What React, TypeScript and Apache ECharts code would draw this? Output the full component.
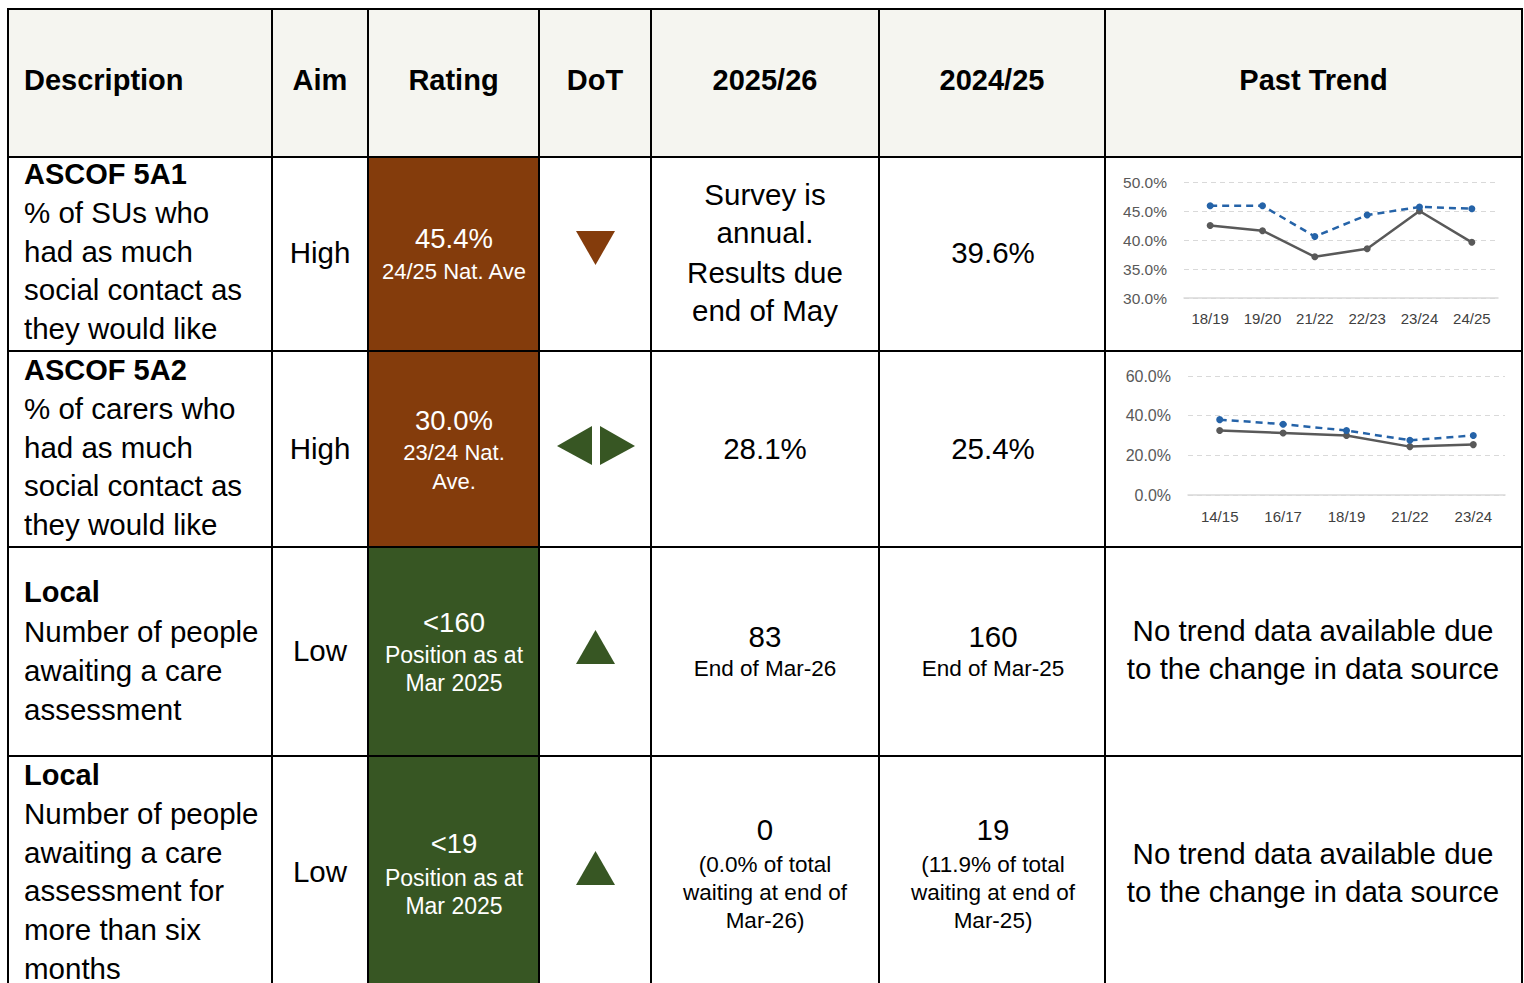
import React, { useEffect, useRef } from "react";
import * as echarts from "echarts";

// ---- Data ----
const trend1Categories = ["18/19", "19/20", "21/22", "22/23", "23/24", "24/25"];
const trend1Local = [42.5, 41.6, 37.1, 38.5, 45.0, 39.6];
const trend1National = [45.9, 45.9, 40.6, 44.3, 45.7, 45.4];
const trend1Ticks = { min: 30, max: 50, interval: 5 };

const trend2Categories = ["14/15", "16/17", "18/19", "21/22", "23/24"];
const trend2Local = [32.5, 31.3, 30.0, 24.4, 25.4];
const trend2National = [38.0, 35.7, 32.5, 27.6, 30.0];
const trend2Ticks = { min: 0, max: 60, interval: 20 };

const headers = ["Description", "Aim", "Rating", "DoT", "2025/26", "2024/25", "Past Trend"];
const descTitles = ["ASCOF 5A1", "ASCOF 5A2", "Local", "Local"];
const descLines = [
  ["% of SUs who", "had as much", "social contact as", "they would like"],
  ["% of carers who", "had as much", "social contact as", "they would like"],
  ["Number of people", "awaiting a care", "assessment"],
  ["Number of people", "awaiting a care", "assessment for", "more than six", "months"],
];
const aims = ["High", "High", "Low", "Low"];
const ratingMain = ["45.4%", "30.0%", "<160", "<19"];
const ratingSub = [["24/25 Nat. Ave"], ["23/24 Nat.", "Ave."], ["Position as at", "Mar 2025"], ["Position as at", "Mar 2025"]];
const dots = ["down", "both", "up", "up"];
const cur = [
  { main: ["Survey is", "annual.", "Results due", "end of May"], sub: [] as string[] },
  { main: ["28.1%"], sub: [] as string[] },
  { main: ["83"], sub: ["End of Mar-26"] },
  { main: ["0"], sub: ["(0.0% of total", "waiting at end of", "Mar-26)"] },
];
const prev = [
  { main: ["39.6%"], sub: [] as string[] },
  { main: ["25.4%"], sub: [] as string[] },
  { main: ["160"], sub: ["End of Mar-25"] },
  { main: ["19"], sub: ["(11.9% of total", "waiting at end of", "Mar-25)"] },
];
const noTrend = ["No trend data available due", "to the change in data source"];

// ---- Layout ----
const FONT = "'Liberation Sans', Arial, sans-serif";
const colX = [8, 272, 368, 539, 651, 879, 1105, 1522];
const rowY = [9, 157, 351, 547, 756, 983];
const BROWN = "#843C0C";
const GREEN = "#375623";
const MAIN = 29.5;
const BOLD = 29;

function txt(text: string, x: number, y: number, size: number, opts: any = {}) {
  return {
    type: "text",
    x,
    y,
    z: 10,
    style: {
      text,
      fill: opts.fill || "#000",
      fontSize: size,
      fontWeight: opts.bold ? "bold" : "normal",
      fontFamily: FONT,
      align: opts.align || "center",
      verticalAlign: "middle",
    },
  };
}

export default function App() {
  const ref = useRef<HTMLDivElement>(null);
  useEffect(() => {
    if (!ref.current) return;
    const chart = echarts.init(ref.current, undefined, { renderer: "svg" });
    const g: any[] = [];
    // backgrounds
    g.push({ type: "rect", z: 1, shape: { x: 8, y: 9, width: 1514, height: 148 }, style: { fill: "#F5F5F0" } });
    g.push({ type: "rect", z: 1, shape: { x: 368, y: 157, width: 171, height: 390 }, style: { fill: BROWN } });
    g.push({ type: "rect", z: 1, shape: { x: 368, y: 547, width: 171, height: 436 }, style: { fill: GREEN } });

    // headers
    const hc = [0, 1, 2, 3, 4, 5, 6].map((i) => (colX[i] + colX[i + 1]) / 2);
    headers.forEach((h, i) => {
      if (i === 0) g.push(txt(h, 24, 80, BOLD, { bold: true, align: "left" }));
      else g.push(txt(h, hc[i], 80, BOLD, { bold: true }));
    });

    // description column
    const descTop = [174, 370, 592, 775];
    const descStep = [38.5, 38.5, 39, 38.6];
    descTitles.forEach((t, r) => {
      g.push(txt(t, 24, descTop[r], BOLD, { bold: true, align: "left" }));
      descLines[r].forEach((l, k) => g.push(txt(l, 24, descTop[r] + descStep[r] * (k + 1), MAIN, { align: "left" })));
    });

    // aim
    const aimY = [252, 448, 650, 871];
    aims.forEach((a, r) => g.push(txt(a, 320, aimY[r], MAIN)));

    // rating
    const rMainY = [238, 420, 622, 843];
    const rSubY = [[271], [452, 481], [655, 683], [878, 906]];
    const rSubSize = [22, 22, 23, 23];
    ratingMain.forEach((m, r) => {
      g.push(txt(m, 454, rMainY[r], 27.5, { fill: "#fff" }));
      ratingSub[r].forEach((s, k) => g.push(txt(s, 454, rSubY[r][k], rSubSize[r], { fill: "#fff" })));
    });

    // DoT arrows
    dots.forEach((d, r) => {
      if (d === "down") {
        g.push({ type: "polygon", z: 5, shape: { points: [[576, 231], [615, 231], [595.5, 265]] }, style: { fill: BROWN } });
      } else if (d === "both") {
        g.push({ type: "polygon", z: 5, shape: { points: [[557, 446], [592, 426], [592, 465]] }, style: { fill: GREEN } });
        g.push({ type: "polygon", z: 5, shape: { points: [[600, 426], [600, 465], [635, 446]] }, style: { fill: GREEN } });
      } else {
        const top = r === 2 ? 630 : 851;
        g.push({ type: "polygon", z: 5, shape: { points: [[576, top + 34], [615, top + 34], [595.5, top]] }, style: { fill: GREEN } });
      }
    });

    // current & previous columns
    const valMainY = [[194, 232, 272, 310], [448], [636], [829]];
    const valSubY = [[], [], [668], [864, 892, 920]];
    const prevMainY = [[252], [448], [636], [829]];
    cur.forEach((c, r) => {
      c.main.forEach((m, k) => g.push(txt(m, 765, valMainY[r][k], MAIN)));
      c.sub.forEach((s, k) => g.push(txt(s, 765, valSubY[r][k], 22.5)));
    });
    prev.forEach((c, r) => {
      c.main.forEach((m, k) => g.push(txt(m, 993, prevMainY[r][k], MAIN)));
      c.sub.forEach((s, k) => g.push(txt(s, 993, valSubY[r][k], 22.5)));
    });

    // no trend texts
    const ntY = [[630, 668], [853, 891]];
    ntY.forEach((ys) => noTrend.forEach((l, k) => g.push(txt(l, 1313, ys[k], MAIN))));

    // borders
    colX.forEach((x) =>
      g.push({ type: "line", z: 20, shape: { x1: x, y1: 8, x2: x, y2: 983 }, style: { stroke: "#000", lineWidth: 2 } })
    );
    rowY.slice(0, 5).forEach((y) =>
      g.push({ type: "line", z: 20, shape: { x1: 7, y1: y, x2: 1523, y2: y }, style: { stroke: "#000", lineWidth: 2 } })
    );

    const pct = (v: number) => v.toFixed(1) + "%";
    const axisLabelY = (size: number, margin: number) => ({
      formatter: pct,
      color: "#595959",
      fontSize: size,
      fontFamily: FONT,
      margin,
    });
    const xAx = (cats: string[], gi: number, size: number, margin: number) => ({
      type: "category",
      gridIndex: gi,
      data: cats,
      boundaryGap: true,
      axisTick: { show: false },
      axisLine: { show: true, lineStyle: { color: "#D9D9D9", width: 1.5 } },
      axisLabel: { color: "#404040", fontSize: size, fontFamily: FONT, margin },
    });
    const yAx = (t: any, gi: number, size: number, margin: number) => ({
      type: "value",
      gridIndex: gi,
      min: t.min,
      max: t.max,
      interval: t.interval,
      axisLine: { show: false },
      axisTick: { show: false },
      splitLine: { show: true, lineStyle: { color: "#D9D9D9", type: [5, 4], width: 1 } },
      axisLabel: axisLabelY(size, margin),
    });
    const localStyle = {
      type: "line",
      symbol: "circle",
      symbolSize: 7,
      itemStyle: { color: "#595959" },
      lineStyle: { color: "#595959", width: 2.5 },
    };
    const natStyle = {
      type: "line",
      symbol: "circle",
      symbolSize: 7,
      itemStyle: { color: "#2563A8" },
      lineStyle: { color: "#2563A8", width: 2.5, type: [7, 5] },
    };

    chart.setOption({
      animation: false,
      backgroundColor: "#fff",
      graphic: g,
      grid: [
        { left: 1184, top: 182, width: 314, height: 116 },
        { left: 1188, top: 376, width: 317, height: 119 },
      ],
      xAxis: [xAx(trend1Categories, 0, 15, 13), xAx(trend2Categories, 1, 15, 14)],
      yAxis: [yAx(trend1Ticks, 0, 15.5, 17), yAx(trend2Ticks, 1, 16, 17)],
      series: [
        { ...localStyle, name: "Local", xAxisIndex: 0, yAxisIndex: 0, data: trend1Local, z: 3 },
        { ...natStyle, name: "National average", xAxisIndex: 0, yAxisIndex: 0, data: trend1National, z: 4 },
        { ...localStyle, name: "Local", xAxisIndex: 1, yAxisIndex: 1, data: trend2Local, z: 3 },
        { ...natStyle, name: "National average", xAxisIndex: 1, yAxisIndex: 1, data: trend2National, z: 4 },
      ],
    });
    return () => chart.dispose();
  }, []);
  return <div ref={ref} style={{ position: "absolute", left: 0, top: 0, width: 1524, height: 983 }} />;
}
